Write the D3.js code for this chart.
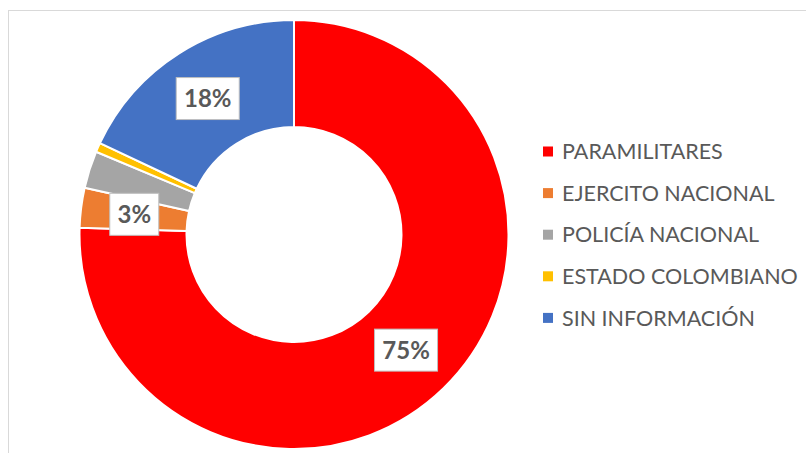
<!DOCTYPE html>
<html>
<head>
<meta charset="utf-8">
<script src="https://cdn.jsdelivr.net/npm/d3@7"></script>
<style>
  body { margin: 0; background: #fff; }
  svg { display: block; }
</style>
</head>
<body>
<div id="chart"></div>
<script>
// data
const categories = ['PARAMILITARES', 'EJERCITO NACIONAL', 'POLICÍA NACIONAL', 'ESTADO COLOMBIANO', 'SIN INFORMACIÓN'];
const values = [75.5, 3, 2.8, 0.7, 18];
const labels = ['75%', '3%', '', '', '18%'];
const colors = ['#ff0000', '#ed7d31', '#a5a5a5', '#ffc000', '#4472c4'];

var width = 806, height = 453;
var cx = 294, cy = 234.5, outerR = 214.5, innerR = 107.5;
var textColor = '#595959';
var fontFam = 'Lato, "Open Sans", sans-serif';

var svg = d3.select('#chart')
  .append('svg')
  .attr('width', width)
  .attr('height', height);

// chart area frame (runs off the right and bottom edges)
svg.append('rect')
  .attr('x', 8.5).attr('y', 10.5)
  .attr('width', 820).attr('height', 460)
  .attr('fill', '#fff')
  .attr('stroke', '#d9d9d9')
  .attr('stroke-width', 1);

var data = categories.map(function(c, i) {
  return { name: c, value: values[i], label: labels[i], color: colors[i] };
});

var pie = d3.pie()
  .sort(null)
  .value(function(d) { return d.value; });

var arc = d3.arc()
  .innerRadius(innerR)
  .outerRadius(outerR);

var g = svg.append('g')
  .attr('transform', 'translate(' + cx + ',' + cy + ')');

var arcs = pie(data);

g.selectAll('path')
  .data(arcs)
  .enter()
  .append('path')
    .attr('d', arc)
    .attr('fill', function(d) { return d.data.color; })
    .attr('stroke', '#fff')
    .attr('stroke-width', 2)
    .attr('stroke-linejoin', 'round');

// data labels in white boxes at the slice centroid
var lab = g.selectAll('.lab')
  .data(arcs.filter(function(d) { return d.data.label !== ''; }))
  .enter()
  .append('g')
    .attr('class', 'lab')
    .attr('transform', function(d) {
      var c = arc.centroid(d);
      return 'translate(' + c[0] + ',' + c[1] + ')';
    });

lab.append('rect')
  .attr('fill', '#fff')
  .attr('stroke', '#bfbfbf')
  .attr('stroke-width', 1);

var labText = lab.append('text')
  .attr('text-anchor', 'middle')
  .attr('dy', '0.36em')
  .style('font-family', fontFam)
  .style('font-weight', 'bold')
  .style('font-size', '24px')
  .style('fill', textColor)
  .text(function(d) { return d.data.label; });

labText.each(function() {
  var w = this.getComputedTextLength();
  d3.select(this.parentNode).select('rect')
    .attr('x', -Math.round(w / 2) - 7.5)
    .attr('y', -21)
    .attr('width', Math.round(w) + 15)
    .attr('height', 42);
});

// legend
var legX = 543, legY0 = 151.5, legStep = 41.6;
var leg = svg.selectAll('.leg')
  .data(data)
  .enter()
  .append('g')
    .attr('class', 'leg')
    .attr('transform', function(d, i) {
      return 'translate(' + legX + ',' + (legY0 + i * legStep) + ')';
    });

leg.append('rect')
  .attr('x', 0).attr('y', -5)
  .attr('width', 10).attr('height', 10)
  .attr('fill', function(d) { return d.color; });

leg.append('text')
  .attr('x', 19)
  .attr('dy', '0.36em')
  .style('font-family', fontFam)
  .style('font-size', '21.5px')
  .style('fill', textColor)
  .text(function(d) { return d.name; });
</script>
</body>
</html>
